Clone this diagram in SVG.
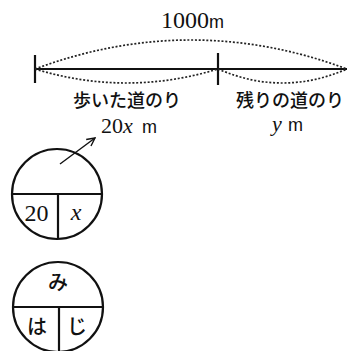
<svg xmlns="http://www.w3.org/2000/svg" width="347" height="351" viewBox="0 0 347 351">
<defs>
<style>
.ln{stroke:#111;fill:none;stroke-width:2.2}
.dot{stroke:#222;fill:none;stroke-width:1.7;stroke-dasharray:2 1.8}
.jp{font-family:'Noto Sans CJK JP',sans-serif;font-weight:500;fill:#111}
.num{font-family:'Liberation Serif','Times New Roman',Times,'DejaVu Serif',serif;fill:#111}
.var{font-family:'Liberation Serif','Times New Roman',Times,'DejaVu Serif',serif;font-style:italic;fill:#111}
.unit{font-family:'Liberation Sans',Arial,sans-serif;fill:#111}
</style>
<marker id="ah" markerWidth="10" markerHeight="10" refX="9" refY="5" orient="auto" markerUnits="userSpaceOnUse">
<path d="M1,1 L9,5 L1,9" fill="none" stroke="#111" stroke-width="1.4"/>
</marker>
</defs>
<rect width="347" height="351" fill="#fff"/>
<g id="connectors">
<line class="ln" x1="35" y1="69" x2="347" y2="69" stroke-width="2.5"/>
<line class="ln" x1="35" y1="55" x2="35" y2="83"/>
<line class="ln" x1="218" y1="53" x2="218" y2="85"/>
<path class="dot" d="M35,69 Q191,11 347,69"/>
<path class="dot" d="M35,69 Q126.5,97 218,69"/>
<path class="dot" d="M218,69 Q282.5,97 347,69"/>
<line x1="60" y1="164" x2="95" y2="138" stroke="#111" stroke-width="1.4" marker-end="url(#ah)"/>
</g>
<g id="label-total">
<text class="num" x="161" y="28" font-size="24">1000</text>
<text class="unit" x="209" y="28" font-size="18">m</text>
</g>
<g id="label-walked">
<text class="jp" x="127" y="107" font-size="18" text-anchor="middle">歩いた道のり</text>
<text class="num" x="101" y="133" font-size="22">20</text>
<text class="var" x="123" y="133" font-size="22">x</text>
<text class="unit" x="142" y="133" font-size="18">m</text>
</g>
<g id="label-rest">
<text class="jp" x="290" y="107" font-size="18" text-anchor="middle">残りの道のり</text>
<text class="var" x="272" y="131" font-size="22">y</text>
<text class="unit" x="288" y="131" font-size="18">m</text>
</g>
<g id="circle1">
<circle class="ln" cx="57" cy="194" r="45"/>
<line class="ln" x1="12" y1="194" x2="102" y2="194"/>
<line class="ln" x1="58" y1="194" x2="58" y2="239"/>
<text class="num" x="36.5" y="221" font-size="24" text-anchor="middle">20</text>
<text class="var" x="76" y="220" font-size="24" text-anchor="middle">x</text>
</g>
<g id="circle2">
<circle class="ln" cx="58" cy="307" r="45"/>
<line class="ln" x1="13" y1="307" x2="103" y2="307"/>
<line class="ln" x1="59" y1="307" x2="59" y2="352"/>
<text class="jp" x="58" y="290" font-size="20" text-anchor="middle">み</text>
<text class="jp" x="37" y="334" font-size="20" text-anchor="middle">は</text>
<text class="jp" x="77" y="334" font-size="20" text-anchor="middle">じ</text>
</g>
</svg>
